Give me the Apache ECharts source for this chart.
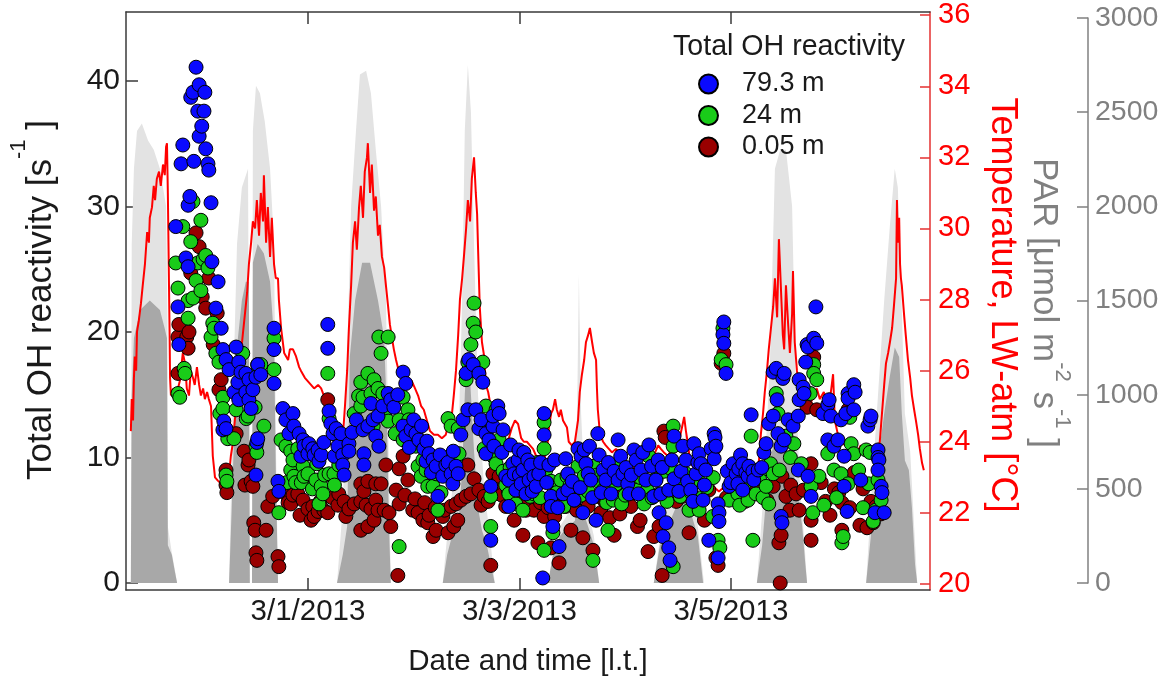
<!DOCTYPE html>
<html><head><meta charset="utf-8">
<script src="https://cdn.jsdelivr.net/npm/echarts@6/dist/echarts.min.js"></script>
<style>html,body{margin:0;padding:0;background:#fff}#c{width:1170px;height:686px}</style>
</head><body><div id="c"></div>
<script>
// Time unit: hours since 2013-03-01 00:00 local time
const tickHours = [0, 48, 96];
const tickLabels = ['3/1/2013', '3/3/2013', '3/5/2013'];
const ohTicks = [0, 10, 20, 30, 40];
const tempTicks = [20, 22, 24, 26, 28, 30, 32, 34, 36];
const seriesNames = ['79.3 m', '24 m', '0.05 m'];

// Total OH reactivity [s-1] at 79.3 m : [hour, value]
const oh79 = [[-30.0,28.4],[-29.5,22.0],[-29.3,19.0],[-28.8,33.4],[-28.4,34.9],[-27.7,25.9],[-27.2,25.2],[-27.2,30.1],[-26.8,30.8],[-26.6,38.7],[-26.1,39.1],[-25.9,33.6],[-25.4,41.1],[-25.0,37.6],[-24.7,39.7],[-24.7,35.6],[-24.1,36.4],[-23.6,37.6],[-23.4,39.1],[-23.2,34.6],[-22.7,33.4],[-22.5,32.9],[-22.0,30.3],[-21.8,25.6],[-20.9,21.9],[-20.4,24.0],[-19.7,20.3],[-19.3,18.6],[-19.3,12.2],[-19.1,12.9],[-18.6,17.8],[-18.6,12.3],[-17.9,17.0],[-16.8,15.2],[-16.3,18.8],[-15.9,16.0],[-15.7,17.6],[-15.7,14.6],[-15.2,16.8],[-14.1,16.7],[-14.1,15.2],[-13.4,16.2],[-13.4,14.6],[-12.9,13.9],[-12.5,15.4],[-11.8,16.4],[-11.8,8.6],[-11.6,11.2],[-11.4,17.4],[-11.4,11.5],[-10.7,16.6],[-7.7,20.3],[-7.7,18.6],[-7.7,15.9],[-6.8,8.1],[-6.6,7.3],[-5.7,13.9],[-5.0,13.0],[-4.3,11.9],[-3.4,13.5],[-3.2,12.5],[-2.0,11.9],[-1.6,10.1],[-1.1,11.4],[-0.9,10.9],[0,10.3],[0.2,11.1],[1.1,10.7],[1.4,10.2],[2.3,10.6],[2.5,9.7],[3.0,10.2],[3.6,11.2],[4.5,20.6],[4.5,18.7],[4.8,13.7],[5.2,12.7],[5.7,11.9],[6.0,10.1],[6.4,12.3],[6.8,10.9],[7.5,11.9],[7.9,10.2],[7.9,9.4],[8.2,8.6],[9.3,11.1],[9.3,10.5],[10.0,12.0],[11.0,13.0],[12.5,12.2],[12.7,10.3],[12.7,9.4],[13.6,12.5],[14.3,14.3],[14.8,13.0],[15.4,11.7],[15.9,13.3],[16.1,10.9],[17.0,14.1],[18.2,15.1],[18.8,14.6],[19.5,14.0],[20.4,15.0],[21.6,16.8],[21.6,12.5],[22.2,15.9],[22.2,11.7],[23.0,10.8],[23.4,12.2],[24.0,13.0],[24.5,11.9],[25.2,11.4],[25.8,12.5],[26.3,10.7],[26.8,9.7],[27.0,11.3],[27.5,10.3],[28.0,8.8],[28.4,9.8],[29.1,9.3],[29.5,6.9],[30.0,10.2],[30.6,8.5],[31.3,9.4],[31.8,9.6],[32.5,8.7],[32.9,7.9],[33.0,10.5],[33.6,9.3],[34.1,8.7],[34.7,11.8],[35.2,13.0],[35.9,16.7],[36.3,13.8],[36.5,17.8],[37.5,17.4],[38.1,13.8],[38.8,16.7],[38.8,12.3],[39.3,13.0],[39.7,16.0],[40.4,11.9],[40.4,10.3],[41.1,11.4],[41.5,7.7],[41.5,3.4],[42.0,12.5],[42.0,13.3],[42.2,10.9],[43.1,14.1],[43.4,13.5],[44.0,10.4],[44.3,12.2],[44.9,8.5],[45.6,8.2],[45.6,6.1],[46.0,11.0],[46.5,9.5],[46.8,8.7],[47.2,7.4],[47.7,9.8],[47.9,10.6],[48.0,8.6],[48.4,7.9],[48.8,9.0],[49.0,10.4],[49.5,7.1],[49.9,9.8],[50.2,8.2],[50.6,9.4],[50.9,7.3],[51.3,8.5],[51.8,7.7],[52.4,8.7],[52.8,9.6],[53.3,0.4],[53.6,13.5],[53.6,11.8],[54.2,8.0],[54.7,9.4],[55.2,6.9],[55.2,6.1],[55.6,4.5],[56.0,9.8],[56.7,6.0],[57.0,2.9],[57.9,7.1],[58.5,9.9],[59.0,8.7],[59.0,7.4],[60.0,8.1],[60.4,6.6],[61.3,10.7],[61.8,7.6],[62.0,10.1],[62.4,5.6],[62.7,10.6],[63.1,9.5],[63.6,8.7],[63.9,10.9],[64.2,8.2],[64.6,6.8],[65.4,5.0],[65.8,11.9],[66.1,10.2],[66.6,7.2],[67.0,9.0],[67.6,8.2],[68.2,9.6],[68.8,7.1],[69.5,8.9],[70.4,11.4],[70.4,8.2],[71.0,10.1],[71.5,8.7],[72.2,9.2],[72.6,7.9],[72.9,7.1],[73.4,8.6],[74.0,10.6],[74.5,9.8],[75.0,7.1],[75.6,9.0],[76.0,10.4],[76.7,8.2],[77.4,11.0],[78.0,9.3],[78.5,6.9],[79.0,8.2],[79.5,9.8],[79.7,5.6],[80.1,7.1],[80.4,9.2],[80.6,3.7],[81.3,4.8],[81.9,7.4],[81.9,2.8],[82.2,1.8],[82.6,9.8],[83.1,11.7],[83.1,8.3],[84.2,7.3],[84.7,8.9],[85.1,10.9],[85.8,9.8],[86.2,8.1],[86.9,7.4],[87.4,6.5],[87.6,11.1],[88.1,8.7],[88.5,9.6],[88.8,10.3],[89.2,9.5],[89.7,6.6],[90.0,7.8],[90.3,9.0],[91.0,3.4],[91.5,10.7],[92.2,11.9],[92.2,9.9],[92.4,11.6],[92.6,10.9],[93.1,6.3],[93.1,2.0],[93.3,5.6],[93.3,4.9],[94.2,19.8],[94.4,20.8],[94.4,19.1],[94.9,16.7],[95.2,8.9],[95.6,7.7],[96.0,8.0],[96.5,9.5],[97.2,8.7],[97.6,7.9],[97.8,9.1],[98.2,10.2],[98.7,9.5],[98.7,7.4],[99.4,8.8],[99.9,8.5],[100.1,9.3],[100.6,13.4],[101.0,8.9],[101.2,8.2],[102.2,9.0],[103.0,9.2],[103.5,10.4],[104.0,11.1],[104.6,12.7],[105.6,13.3],[105.6,16.8],[106.3,17.1],[106.5,14.6],[106.7,11.9],[107.4,10.9],[107.4,5.3],[107.6,4.8],[107.8,16.3],[108.1,16.7],[108.1,11.4],[109.0,13.0],[110.1,12.5],[111.3,13.3],[111.3,9.0],[111.5,16.2],[111.5,14.6],[112.4,15.6],[112.6,15.1],[113.0,17.6],[113.3,19.0],[113.5,18.8],[113.5,8.5],[114.2,6.9],[114.8,19.5],[115.3,22.0],[115.5,19.1],[116.9,13.5],[118.0,14.2],[118.0,11.4],[118.3,14.6],[118.7,13.3],[119.4,10.9],[120.3,11.4],[121.0,13.0],[121.7,10.1],[121.7,7.7],[122.1,13.5],[122.4,5.7],[122.6,15.1],[122.6,14.7],[123.9,15.8],[123.9,13.8],[124.2,15.2],[125.5,8.2],[127.1,12.5],[127.6,13.0],[127.8,13.3],[128.7,5.6],[129.4,10.6],[129.4,10.0],[129.6,9.8],[129.4,9.0],[130.1,7.7],[130.3,7.2],[130.8,5.6]];

// at 24 m
const oh24 = [[-30.0,25.5],[-29.5,23.5],[-29.5,15.1],[-29.1,14.8],[-28.4,28.4],[-28.1,17.1],[-27.9,16.7],[-27.2,22.5],[-27.2,21.1],[-26.6,27.2],[-26.1,30.4],[-26.1,22.7],[-25.4,24.1],[-25.0,25.5],[-24.3,28.9],[-24.3,23.3],[-23.8,25.8],[-23.2,26.1],[-22.7,25.1],[-22.0,19.6],[-21.6,20.7],[-21.3,20.3],[-20.9,18.3],[-20.2,17.6],[-20.0,13.5],[-19.3,14.8],[-19.3,13.9],[-18.6,8.6],[-18.4,8.1],[-18.2,11.5],[-16.8,11.5],[-16.3,13.8],[-14.8,18.3],[-14.0,13.1],[-13.6,13.3],[-12.0,14.0],[-11.8,10.9],[-11.6,10.4],[-11.6,16.8],[-11.4,17.4],[-10.7,17.4],[-10.0,12.5],[-7.7,19.5],[-7.7,17.0],[-6.6,5.6],[-6.1,11.4],[-5.0,10.9],[-4.8,8.0],[-3.9,10.5],[-3.9,9.0],[-3.4,9.8],[-3.2,8.5],[-2.8,8.0],[-2.3,10.7],[-1.5,8.0],[-1.1,9.3],[-0.9,8.5],[0,8.7],[1.0,7.5],[1.8,8.2],[2.0,9.5],[2.5,6.3],[3.0,7.7],[3.4,7.1],[3.8,8.6],[4.5,16.7],[4.8,13.1],[4.8,8.7],[5.9,8.7],[6.0,7.8],[7.0,9.4],[10.5,13.5],[11.5,14.9],[12.0,16.0],[12.0,14.1],[12.5,14.8],[13.6,16.7],[14.3,15.1],[14.8,12.5],[15.0,16.2],[15.9,15.5],[16.1,19.6],[16.6,18.3],[17.0,15.1],[17.6,13.7],[18.2,19.6],[18.2,12.9],[19.8,11.9],[20.7,13.0],[20.7,2.9],[21.6,14.8],[21.6,11.4],[22.7,13.8],[22.9,13.0],[23.8,11.6],[24.5,10.9],[25.0,9.3],[25.7,8.5],[26.1,9.8],[26.8,9.0],[27.2,7.7],[27.8,9.9],[28.4,7.7],[29.1,8.7],[29.5,5.8],[30.2,7.2],[31.8,13.1],[32.5,12.5],[32.9,10.3],[33.5,9.8],[34.1,12.3],[34.3,10.3],[35.9,16.2],[36.3,17.6],[37.0,19.0],[37.5,20.7],[37.7,22.3],[38.1,20.0],[39.7,17.6],[40.0,10.7],[40.4,14.1],[40.9,12.3],[41.5,6.9],[41.5,4.5],[42.0,10.1],[42.7,13.8],[42.7,9.5],[43.4,11.4],[44.3,8.9],[44.9,7.8],[45.6,7.1],[45.9,9.2],[46.8,8.2],[47.2,6.3],[47.9,9.0],[48.3,8.0],[48.8,5.8],[49.3,7.4],[50.0,7.2],[50.4,6.9],[51.3,7.1],[52.1,9.6],[52.7,6.8],[53.6,12.8],[53.6,10.7],[53.6,2.6],[54.0,9.0],[55.2,8.1],[55.6,4.0],[56.5,7.2],[57.4,8.2],[58.1,6.1],[58.8,8.5],[59.5,7.8],[60.5,6.6],[61.3,9.3],[62.0,7.0],[62.7,8.5],[63.6,7.3],[64.7,1.8],[64.9,9.3],[65.6,8.6],[66.3,8.0],[67.0,7.4],[67.8,6.4],[68.1,4.2],[68.6,9.1],[69.3,6.6],[70.0,7.9],[70.4,9.4],[71.2,6.3],[72.0,7.0],[73.5,8.3],[74.0,8.1],[74.9,7.4],[75.5,8.4],[76.3,6.3],[77.0,7.4],[77.4,10.1],[78.1,6.8],[79.0,8.3],[79.7,7.1],[80.8,8.9],[81.5,6.5],[82.4,9.1],[82.9,10.9],[82.9,12.5],[82.9,1.3],[83.8,8.2],[84.5,6.9],[85.8,8.7],[86.5,5.8],[87.0,7.2],[88.5,8.2],[88.8,5.8],[89.5,6.8],[90.5,7.6],[91.9,5.3],[92.0,8.4],[93.1,3.4],[93.5,2.8],[93.8,17.8],[94.2,20.3],[94.9,17.4],[95.6,6.6],[96.3,8.0],[97.0,8.9],[97.6,7.1],[98.0,6.2],[99.0,7.8],[99.9,6.6],[100.0,8.8],[100.6,11.7],[101.0,3.4],[101.7,7.1],[102.5,8.3],[103.3,6.8],[104.0,7.7],[104.3,9.1],[104.6,6.3],[105.0,9.5],[105.6,8.7],[106.3,15.1],[106.7,13.5],[107.0,9.0],[108.5,11.7],[109.5,10.0],[110.3,11.1],[112.0,9.5],[114.0,15.1],[114.2,7.7],[114.6,5.6],[114.8,17.4],[114.8,16.7],[115.5,16.2],[116.0,8.5],[117.1,6.2],[118.0,10.3],[119.4,9.0],[120.0,6.8],[121.0,8.7],[121.2,3.2],[121.5,3.7],[122.6,7.9],[123.0,13.2],[123.3,11.1],[123.9,10.3],[125.0,9.0],[126.0,6.0],[126.7,10.6],[127.3,7.9],[127.6,10.4],[128.3,4.9],[128.9,5.8],[129.4,8.2],[130.1,6.6]];

// at 0.05 m
const oh005 = [[-29.5,19.6],[-29.5,16.7],[-29.3,20.6],[-27.5,19.6],[-27.2,18.7],[-27.0,20.0],[-26.6,24.7],[-25.4,27.9],[-24.7,26.8],[-24.0,22.8],[-23.2,21.9],[-22.5,24.3],[-21.5,19.0],[-20.6,21.5],[-20.2,15.4],[-19.7,16.2],[-18.6,9.0],[-18.6,7.8],[-18.4,7.2],[-16.3,11.9],[-14.5,10.5],[-14.3,7.8],[-13.6,9.4],[-13.4,9.8],[-12.9,8.1],[-12.5,7.7],[-12.3,4.8],[-12.0,4.2],[-11.8,2.4],[-11.6,1.8],[-9.5,4.2],[-9.1,6.1],[-8.0,6.9],[-6.8,2.1],[-6.6,1.3],[-6.1,7.5],[-5.0,7.1],[-4.5,6.4],[-3.9,6.3],[-3.4,7.0],[-2.3,7.1],[-1.8,5.4],[-1.1,6.6],[0,5.9],[0.7,5.0],[1.1,6.1],[1.4,5.3],[2.3,5.7],[2.8,6.5],[3.6,5.8],[4.5,14.6],[4.5,5.6],[5.5,6.8],[6.8,6.2],[7.0,7.1],[8.2,6.5],[8.6,5.3],[9.3,5.9],[10.5,6.3],[12.0,7.9],[12.0,6.5],[12.0,4.2],[12.7,7.3],[13.2,6.2],[13.6,8.1],[13.6,4.5],[14.3,5.9],[15.0,5.0],[15.4,7.9],[15.4,6.6],[15.9,5.8],[16.6,7.9],[17.3,5.8],[17.7,9.4],[18.4,5.6],[18.8,4.5],[20.0,7.4],[20.4,0.6],[20.7,9.1],[20.7,6.3],[21.6,10.1],[22.0,7.0],[22.7,8.2],[23.8,5.8],[24.3,6.7],[25.0,5.6],[26.1,5.0],[26.5,6.4],[27.2,4.8],[27.5,5.4],[28.4,3.7],[28.9,6.0],[29.1,4.2],[30.6,5.3],[31.0,5.8],[31.8,4.0],[32.5,6.1],[33.1,4.5],[33.6,6.3],[34.0,5.0],[34.7,6.6],[35.9,6.9],[36.3,9.4],[37.0,7.1],[37.7,8.3],[38.8,7.4],[39.3,6.2],[40.0,6.9],[40.9,6.5],[41.5,1.4],[42.0,8.7],[42.2,7.1],[42.7,7.9],[43.4,8.5],[44.0,7.0],[44.9,6.1],[45.5,7.3],[46.1,6.3],[46.8,5.0],[47.5,6.8],[48.4,6.3],[48.8,3.8],[49.5,5.8],[50.0,6.6],[51.3,5.8],[52.2,3.2],[52.8,6.4],[53.6,5.3],[54.5,6.0],[55.2,2.8],[56.0,5.3],[57.0,1.6],[57.4,6.3],[58.5,6.1],[59.7,4.2],[61.0,5.8],[62.4,3.6],[63.6,6.1],[64.7,2.6],[65.8,6.9],[66.5,5.6],[67.4,6.5],[68.5,5.2],[69.5,3.8],[70.8,5.5],[71.0,7.3],[72.5,6.4],[73.3,6.1],[74.8,4.5],[75.4,5.0],[76.0,7.5],[77.2,2.5],[78.5,3.7],[79.7,4.5],[80.4,0.6],[80.8,12.1],[81.1,11.6],[82.5,7.2],[83.6,6.5],[85.0,6.9],[86.5,4.0],[88.0,6.0],[90.0,5.0],[91.0,7.4],[92.2,10.7],[92.6,2.0],[93.1,1.4],[93.8,17.5],[94.4,18.3],[95.0,6.8],[96.9,7.0],[98.5,7.6],[99.2,6.5],[100.8,7.2],[102.6,8.0],[104.2,6.6],[105.6,7.7],[106.9,3.2],[107.2,0.0],[107.4,3.8],[107.6,8.5],[108.5,6.9],[109.4,5.8],[109.6,7.8],[110.8,7.1],[111.5,5.8],[112.5,7.4],[113.3,14.0],[114.2,9.5],[114.2,5.0],[114.2,3.4],[114.8,18.0],[115.5,13.8],[116.5,8.0],[117.5,6.5],[118.5,5.4],[119.5,7.5],[120.5,7.2],[121.2,6.4],[121.2,4.2],[122.6,13.8],[123.0,6.0],[124.0,8.8],[125.3,4.6],[126.0,7.5],[126.9,4.4],[127.8,6.5],[128.3,4.8],[129.0,6.1],[130.0,5.5]];

// Temperature LW-atm [°C] : [hour, value]
const temperature = [[-40.2,24.3],[-40.0,25.2],[-39.7,24.6],[-39.5,25.8],[-39.3,26.4],[-39.0,26.0],[-38.8,27.1],[-38.4,27.4],[-37.9,27.9],[-37.5,28.4],[-37.0,29.0],[-36.5,29.9],[-36.1,29.6],[-35.9,30.3],[-35.4,30.6],[-35.0,31.2],[-34.7,30.8],[-34.3,31.4],[-33.8,31.6],[-33.4,31.2],[-32.9,31.8],[-32.5,31.5],[-32.2,32.3],[-32.0,32.4],[-31.8,31.0],[-31.6,29.0],[-31.4,27.0],[-31.3,25.8],[-31.1,25.3],[-30.6,25.5],[-30.2,25.2],[-29.7,25.4],[-29.1,25.7],[-28.4,26.5],[-27.9,26.2],[-27.5,25.5],[-27.0,25.3],[-26.6,26.0],[-26.1,25.8],[-25.7,25.6],[-25.2,26.1],[-24.7,25.6],[-24.3,25.3],[-23.8,25.5],[-23.4,25.2],[-22.9,25.4],[-22.5,25.2],[-22.0,25.0],[-21.8,24.3],[-21.6,23.6],[-21.1,23.0],[-20.4,22.9],[-19.5,22.8],[-18.6,22.9],[-17.9,23.1],[-17.5,23.6],[-17.0,24.0],[-16.6,24.6],[-16.1,25.3],[-15.7,25.8],[-15.2,26.5],[-14.8,27.0],[-14.3,27.6],[-13.8,28.2],[-13.4,29.0],[-12.9,29.6],[-12.5,30.2],[-12.0,30.0],[-11.6,30.8],[-11.1,29.8],[-10.7,31.0],[-10.2,30.2],[-10.0,31.5],[-9.5,29.6],[-9.1,30.6],[-8.6,29.2],[-8.2,30.3],[-7.7,29.0],[-7.3,28.6],[-6.8,28.6],[-6.6,28.0],[-6.1,27.2],[-5.4,26.5],[-4.5,26.3],[-4.1,26.6],[-3.4,26.6],[-2.7,26.4],[-2.0,26.1],[-1.6,26.0],[-0.7,25.8],[0,25.7],[0.7,25.6],[1.4,25.5],[2.3,25.6],[3.0,25.5],[3.9,25.2],[4.5,25.1],[5.2,24.8],[5.9,24.6],[6.6,24.3],[7.3,24.1],[7.9,24.1],[8.4,25.0],[8.9,26.0],[9.3,27.2],[9.8,28.4],[10.2,29.6],[10.7,30.2],[11.1,29.4],[11.6,30.6],[12.0,31.2],[12.5,30.3],[12.9,31.6],[13.4,32.0],[13.6,32.4],[14.1,31.0],[14.5,31.8],[15.0,30.5],[15.4,30.9],[15.9,29.8],[16.3,30.1],[16.8,29.2],[17.3,28.9],[17.7,28.4],[18.2,27.8],[18.6,27.3],[19.1,26.9],[19.5,26.6],[20.0,26.3],[20.4,26.1],[20.9,25.9],[21.8,25.8],[22.7,25.8],[23.6,25.7],[24.3,25.5],[25.0,25.3],[25.7,25.0],[26.3,24.9],[27.0,24.6],[27.7,24.3],[28.6,24.2],[29.5,24.2],[30.4,24.1],[31.3,24.2],[32.0,24.6],[32.7,24.8],[33.1,25.3],[33.6,26.0],[34.1,27.0],[34.5,28.0],[35.0,28.6],[35.4,29.2],[35.9,30.0],[36.3,30.8],[36.8,30.2],[37.2,31.4],[37.7,32.0],[38.1,31.0],[38.4,30.4],[38.6,29.5],[39.0,27.8],[39.5,26.8],[40.0,26.4],[40.4,25.6],[40.9,25.4],[41.5,25.0],[42.2,24.7],[42.9,24.5],[43.6,24.3],[44.3,24.2],[44.9,24.0],[45.6,24.1],[46.3,24.4],[47.0,24.6],[47.7,24.5],[48.4,24.1],[49.0,24.0],[49.7,24.0],[50.4,23.9],[51.1,23.8],[51.8,23.6],[52.7,23.6],[53.6,23.5],[54.3,23.8],[54.7,24.4],[55.2,24.8],[55.6,24.9],[56.1,25.2],[56.5,24.9],[57.0,24.7],[57.4,24.9],[57.9,24.6],[58.3,24.6],[58.8,24.4],[59.2,24.0],[59.9,23.9],[60.6,24.0],[61.3,24.6],[61.7,25.4],[62.2,25.9],[62.7,26.3],[63.1,26.8],[63.6,27.0],[64.0,27.2],[64.5,26.8],[64.9,26.5],[65.4,26.3],[65.6,25.5],[65.8,24.9],[66.3,24.2],[67.0,24.0],[67.6,23.9],[68.3,23.8],[69.0,23.7],[69.9,23.8],[70.8,23.7],[71.7,23.5],[72.6,23.3],[73.5,23.3],[74.5,23.2],[75.4,23.3],[76.3,23.3],[77.2,23.2],[78.1,23.3],[78.8,23.7],[79.5,23.9],[80.1,23.8],[80.8,23.7],[81.7,23.6],[82.6,23.8],[83.5,23.7],[84.2,24.0],[84.9,24.4],[85.4,24.7],[85.8,24.3],[86.3,23.9],[86.7,23.5],[87.4,23.3],[88.1,23.2],[88.8,22.9],[89.7,22.8],[90.6,22.85],[91.5,22.8],[92.4,22.7],[93.3,22.6],[94.2,22.7],[95.1,22.6],[96.0,22.5],[96.9,22.6],[97.8,22.5],[98.7,22.5],[99.7,22.6],[100.6,22.7],[101.2,22.9],[101.9,23.1],[102.4,23.5],[102.8,24.2],[103.3,24.8],[103.7,25.4],[104.2,26.0],[104.6,26.6],[105.1,27.2],[105.6,27.8],[106.0,28.6],[106.5,27.5],[106.9,29.7],[107.4,28.2],[107.8,27.0],[108.1,26.6],[108.5,28.4],[109.0,27.3],[109.4,26.5],[109.9,27.6],[110.1,28.8],[110.5,26.8],[111.0,26.0],[111.5,25.5],[111.9,25.4],[112.6,25.2],[113.3,24.9],[114.0,25.0],[114.6,25.3],[115.5,25.5],[116.2,25.2],[117.1,25.4],[118.0,25.0],[118.7,25.4],[119.2,25.9],[119.6,24.6],[120.3,24.2],[121.0,24.0],[121.9,23.9],[122.8,24.1],[123.7,23.8],[124.6,23.7],[125.5,23.9],[126.4,23.6],[127.3,23.7],[128.3,23.5],[129.2,23.7],[129.8,24.0],[130.3,24.8],[130.8,25.6],[131.2,26.2],[131.7,26.5],[132.1,26.8],[132.6,27.2],[133.0,27.8],[133.5,28.6],[133.7,30.8],[133.9,29.6],[134.2,30.3],[134.4,29.0],[134.6,28.6],[134.8,28.4],[135.3,27.6],[135.7,27.0],[136.2,26.3],[136.7,25.8],[137.1,25.3],[137.6,24.9],[138.0,24.6],[138.5,24.2],[138.9,23.8],[139.4,23.4],[139.8,23.2]];

// PAR [umol m-2 s-1] : dense body and spike envelope, [hour, value]
const parBody = [[-40.2,0],[-40.0,1000],[-39.5,1300],[-38.1,1450],[-35.9,1500],[-33.6,1450],[-32.5,1350],[-32.0,1300],[-31.8,200],[-30.9,150],[-30.2,60],[-29.7,0],
[-17.9,0],[-17.3,400],[-16.6,900],[-15.9,1300],[-15.0,1500],[-14.1,1600],[-13.4,1600],[-13.2,0],[-12.7,0],[-12.5,1700],[-11.4,1800],[-10.0,1750],[-8.6,1600],[-7.7,1300],[-7.3,600],[-6.8,0],
[6.6,0],[7.9,150],[8.9,300],[9.5,1200],[10.7,1500],[12.3,1700],[14.1,1700],[15.9,1500],[17.3,1300],[17.9,900],[18.4,300],[18.8,0],
[30.6,0],[31.6,150],[32.7,250],[34.1,300],[35.0,600],[35.6,1000],[36.3,1300],[37.0,1000],[37.7,700],[38.6,400],[39.5,280],[40.6,200],[41.5,100],[42.4,0],
[54.5,0],[55.6,150],[57.2,250],[59.0,300],[60.6,330],[61.3,500],[61.7,700],[62.2,400],[63.6,300],[64.9,200],[66.1,0],
[78.5,0],[79.9,200],[81.3,250],[82.6,350],[84.4,450],[85.8,400],[87.2,350],[88.5,250],[89.7,0],
[101.9,0],[103.1,200],[104.0,450],[104.9,650],[106.3,800],[107.6,750],[109.0,700],[110.1,600],[111.3,450],[112.2,300],[112.9,100],[113.3,0],
[126.7,0],[128.0,300],[129.4,650],[130.8,900],[132.1,1100],[133.2,1250],[134.2,1200],[134.8,900],[135.5,650],[136.4,600],[137.1,400],[137.8,100],[138.3,0]];
const parPeaks = [[-40.2,0],[-40.0,1800],[-39.5,2200],[-38.8,2400],[-37.7,2440],[-36.3,2350],[-35.0,2300],[-33.6,2200],[-32.2,2000],[-31.9,1400],[-31.8,300],[-30.9,160],[-30.2,70],[-29.7,0],
[-17.9,0],[-17.0,1000],[-16.1,1800],[-15.0,2100],[-13.6,2200],[-13.2,0],[-12.7,0],[-12.5,2400],[-11.8,2640],[-10.9,2600],[-9.8,2450],[-8.6,2200],[-7.7,1800],[-7.3,800],[-6.8,0],
[6.6,0],[7.9,400],[8.9,1200],[9.8,2000],[10.9,2400],[11.8,2700],[13.2,2720],[14.3,2600],[15.4,2300],[16.6,2000],[17.7,1500],[18.4,600],[18.8,0],
[30.6,0],[32.2,400],[34.1,700],[35.0,1500],[35.6,2400],[36.3,2750],[37.0,2500],[37.7,1800],[38.6,1000],[40.0,500],[41.3,250],[42.4,0],
[54.5,0],[57.2,300],[59.9,400],[61.1,900],[61.5,1640],[62.0,900],[62.9,450],[64.9,250],[66.1,0],
[78.5,0],[80.3,300],[82.6,500],[84.4,650],[85.8,800],[87.2,500],[88.5,300],[89.9,0],
[101.9,0],[103.5,500],[104.9,1200],[106.0,2200],[107.2,2300],[108.5,2300],[109.9,2000],[110.8,1000],[111.7,500],[112.6,250],[113.3,0],
[126.7,0],[128.0,500],[129.4,1000],[130.8,1500],[132.1,1900],[133.2,2200],[133.9,2100],[134.6,1600],[135.5,900],[136.7,700],[137.6,300],[138.3,0]];

const FONT = '"Liberation Sans", Arial, Helvetica, sans-serif';
const INK = '#1a1a1a';
const RED = '#ff0000';
const GRAY = '#808080';
const X_MIN = -41.3, X_MAX = 141.2;

const frameLine = { show: true, onZero: false, lineStyle: { color: '#3a3a3a', width: 1.5 } };
const chart = echarts.init(document.getElementById('c'), null, { renderer: 'canvas' });

const scatterStyle = (color) => ({ color: color, borderColor: '#000', borderWidth: 1, opacity: 1 });

chart.setOption({
  animation: false,
  textStyle: { fontFamily: FONT },
  grid: [
    { left: 126, right: 240, top: 12, bottom: 96 },
    { left: 126, right: 240, top: 18, bottom: 103 }
  ],
  xAxis: [
    { type: 'value', gridIndex: 0, min: X_MIN, max: X_MAX, position: 'bottom',
      axisLine: frameLine,
      axisTick: { show: true, inside: true, length: 12, customValues: tickHours, lineStyle: { color: '#3a3a3a', width: 1.5 } },
      axisLabel: { show: true, customValues: tickHours, formatter: v => tickLabels[tickHours.indexOf(v)], fontSize: 29.5, color: INK, margin: 7, fontFamily: FONT },
      splitLine: { show: false },
      name: 'Date and time [l.t.]', nameLocation: 'middle', nameGap: 57,
      nameTextStyle: { fontSize: 29.5, color: INK, fontFamily: FONT } },
    { type: 'value', gridIndex: 0, min: X_MIN, max: X_MAX, position: 'top',
      axisLine: frameLine,
      axisTick: { show: true, inside: true, length: 12, customValues: tickHours, lineStyle: { color: '#3a3a3a', width: 1.5 } },
      axisLabel: { show: false }, splitLine: { show: false } },
    { type: 'value', gridIndex: 1, min: X_MIN, max: X_MAX, show: false }
  ],
  yAxis: [
    { type: 'value', gridIndex: 0, min: -0.56, max: 45.5, position: 'left',
      axisLine: frameLine,
      axisTick: { show: true, inside: true, length: 12, customValues: ohTicks, lineStyle: { color: '#3a3a3a', width: 1.5 } },
      axisLabel: { customValues: ohTicks, fontSize: 30, color: INK, margin: 6, fontFamily: FONT },
      splitLine: { show: false } },
    { type: 'value', gridIndex: 0, min: 19.83, max: 36.09, position: 'right',
      axisLine: { show: true, onZero: false, lineStyle: { color: '#e53030', width: 1.5 } },
      axisTick: { show: true, inside: true, length: 10, customValues: tempTicks, lineStyle: { color: '#e53030', width: 1.5 } },
      axisLabel: { customValues: tempTicks, fontSize: 29, color: RED, margin: 8, fontFamily: FONT },
      splitLine: { show: false } },
    { type: 'value', gridIndex: 1, min: 0, max: 3000, interval: 500, position: 'right', offset: 158,
      axisLine: { show: true, onZero: false, lineStyle: { color: GRAY, width: 1.5 } },
      axisTick: { show: true, inside: true, length: 11, lineStyle: { color: GRAY, width: 1.5 } },
      axisLabel: { fontSize: 28.5, color: GRAY, margin: 7, fontFamily: FONT, formatter: v => String(v) },
      splitLine: { show: false } }
  ],
  legend: {
    data: seriesNames, orient: 'vertical', left: 693, top: 65,
    itemWidth: 19, itemHeight: 19, itemGap: 3.5,
    textStyle: { fontSize: 27, color: INK, lineHeight: 28, padding: [0, 0, 0, 19], fontFamily: FONT }
  },
  graphic: [
    { type: 'text', x: 41.5, y: 300, rotation: Math.PI / 2,
      style: { text: 'Total OH reactivity [s{sup|-1} ]', fontSize: 35, fontFamily: FONT, fill: INK,
        align: 'center', verticalAlign: 'middle', lineHeight: 68,
        rich: { sup: { fontSize: 22, lineHeight: 22, verticalAlign: 'top', fill: INK, fontFamily: FONT } } } },
    { type: 'text', x: 1002, y: 305, rotation: -Math.PI / 2,
      style: { text: 'Temperature, LW-atm [°C]', fontSize: 36, fontFamily: FONT, fill: RED,
        align: 'center', verticalAlign: 'middle' } },
    { type: 'text', x: 1043.5, y: 303, rotation: -Math.PI / 2,
      style: { text: 'PAR [μmol m{sup|-2} s{sup|-1} ]', fontSize: 35, fontFamily: FONT, fill: GRAY,
        align: 'center', verticalAlign: 'middle', lineHeight: 60,
        rich: { sup: { fontSize: 22, lineHeight: 22, verticalAlign: 'top', fill: GRAY, fontFamily: FONT } } } },
    { type: 'text', x: 673, y: 47,
      style: { text: 'Total OH reactivity', fontSize: 28.6, fontFamily: FONT, fill: INK, align: 'left', verticalAlign: 'middle' } }
  ],
  series: [
    { name: 'PAR peaks', type: 'line', xAxisIndex: 2, yAxisIndex: 2, data: parPeaks, showSymbol: false,
      lineStyle: { width: 0 }, areaStyle: { color: '#e3e3e3', opacity: 1 }, z: 1, silent: true },
    { name: 'PAR', type: 'line', xAxisIndex: 2, yAxisIndex: 2, data: parBody, showSymbol: false,
      lineStyle: { width: 0 }, areaStyle: { color: '#a8a8a8', opacity: 1 }, z: 2, silent: true },
    { name: 'Temperature', type: 'line', xAxisIndex: 0, yAxisIndex: 1, data: temperature, showSymbol: false,
      lineStyle: { color: RED, width: 2 }, z: 3, silent: true },
    { name: seriesNames[2], type: 'scatter', xAxisIndex: 0, yAxisIndex: 0, data: oh005, symbolSize: 14,
      itemStyle: scatterStyle('#990000'), z: 4 },
    { name: seriesNames[1], type: 'scatter', xAxisIndex: 0, yAxisIndex: 0, data: oh24, symbolSize: 14,
      itemStyle: scatterStyle('#19cc19'), z: 5 },
    { name: seriesNames[0], type: 'scatter', xAxisIndex: 0, yAxisIndex: 0, data: oh79, symbolSize: 14,
      itemStyle: scatterStyle('#0a0aff'), z: 6 }
  ]
});
</script>
</body></html>
